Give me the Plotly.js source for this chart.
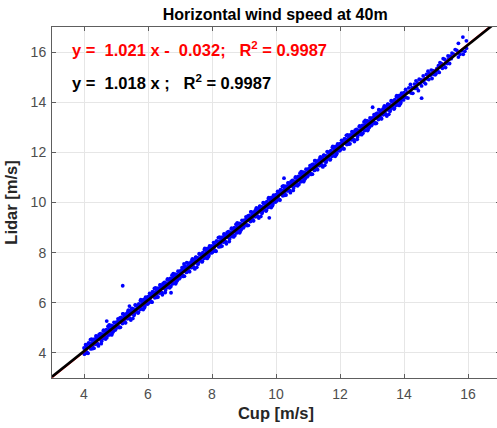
<!DOCTYPE html>
<html>
<head>
<meta charset="utf-8">
<script src="https://cdn.plot.ly/plotly-3.0.1.min.js"></script>
<style>
html,body{margin:0;padding:0;overflow:hidden;background:#fff;}
#chart{width:503px;height:428px;}
</style>
</head>
<body>
<div id="chart"></div>
<script>
// Cup anemometer wind speed [m/s]
const cupSpeed = [
4,4.025,4.05,4.075,4.1,4.125,4.15,4.175,4.2,4.225,4.25,4.275,4.3,4.325,4.35,4.375,4.4,4.425,4.45,4.475,4.5,4.525,4.55,4.575,4.6,4.625,4.65,4.675,4.7,4.725,4.75,4.775,4.8,4.825,4.85,4.875,4.9,4.925,4.95,4.975,
5,5.025,5.05,5.075,5.1,5.125,5.15,5.175,5.2,5.225,5.25,5.275,5.3,5.325,5.35,5.375,5.4,5.425,5.45,5.475,5.5,5.525,5.55,5.575,5.6,5.625,5.65,5.675,5.7,5.725,5.75,5.775,5.8,5.825,5.85,5.875,5.9,5.925,5.95,5.975,
6,6.025,6.05,6.075,6.1,6.125,6.15,6.175,6.2,6.225,6.25,6.275,6.3,6.325,6.35,6.375,6.4,6.425,6.45,6.475,6.5,6.525,6.55,6.575,6.6,6.625,6.65,6.675,6.7,6.725,6.75,6.775,6.8,6.825,6.85,6.875,6.9,6.925,6.95,6.975,
7,7.025,7.05,7.075,7.1,7.125,7.15,7.175,7.2,7.225,7.25,7.275,7.3,7.325,7.35,7.375,7.4,7.425,7.45,7.475,7.5,7.525,7.55,7.575,7.6,7.625,7.65,7.675,7.7,7.725,7.75,7.775,7.8,7.825,7.85,7.875,7.9,7.925,7.95,7.975,
8,8.025,8.05,8.075,8.1,8.125,8.15,8.175,8.2,8.225,8.25,8.275,8.3,8.325,8.35,8.375,8.4,8.425,8.45,8.475,8.5,8.525,8.55,8.575,8.6,8.625,8.65,8.675,8.7,8.725,8.75,8.775,8.8,8.825,8.85,8.875,8.9,8.925,8.95,8.975,
9,9.025,9.05,9.075,9.1,9.125,9.15,9.175,9.2,9.225,9.25,9.275,9.3,9.325,9.35,9.375,9.4,9.425,9.45,9.475,9.5,9.525,9.55,9.575,9.6,9.625,9.65,9.675,9.7,9.725,9.75,9.775,9.8,9.825,9.85,9.875,9.9,9.925,9.95,9.975,
10,10.025,10.05,10.075,10.1,10.125,10.15,10.175,10.2,10.225,10.25,10.275,10.3,10.325,10.35,10.375,10.4,10.425,10.45,10.475,10.5,10.525,10.55,10.575,10.6,10.625,10.65,10.675,10.7,10.725,10.75,10.775,10.8,10.825,10.85,10.875,10.9,10.925,10.95,10.975,
11,11.025,11.05,11.075,11.1,11.125,11.15,11.175,11.2,11.225,11.25,11.275,11.3,11.325,11.35,11.375,11.4,11.425,11.45,11.475,11.5,11.525,11.55,11.575,11.6,11.625,11.65,11.675,11.7,11.725,11.75,11.775,11.8,11.825,11.85,11.875,11.9,11.925,11.95,11.975,
12,12.025,12.05,12.075,12.1,12.125,12.15,12.175,12.2,12.225,12.25,12.275,12.3,12.325,12.35,12.375,12.4,12.425,12.45,12.475,12.5,12.525,12.55,12.575,12.6,12.625,12.65,12.675,12.7,12.725,12.75,12.775,12.8,12.825,12.85,12.875,12.9,12.925,12.95,12.975,
13,13.025,13.05,13.075,13.1,13.125,13.15,13.175,13.2,13.225,13.25,13.275,13.3,13.325,13.35,13.375,13.4,13.425,13.45,13.475,13.5,13.525,13.55,13.575,13.6,13.625,13.65,13.675,13.7,13.725,13.75,13.775,13.8,13.825,13.85,13.875,13.9,13.925,13.95,13.975,
14,14.05,14.1,14.15,14.2,14.25,14.3,14.35,14.4,14.45,14.5,14.55,14.6,14.65,14.7,14.75,14.8,14.85,14.9,14.95,
14.025,14.075,14.125,14.175,14.225,14.275,14.325,14.375,14.425,14.475,
14.525,14.575,14.625,14.675,14.725,14.775,14.825,14.875,14.925,14.975,
15,15.05,15.1,15.15,15.2,15.25,15.3,15.35,15.4,15.45,15.5,15.55,15.6,15.65,15.7,15.75,15.8,15.85,15.9,15.95,
15.025,15.075,15.125,15.175,15.225,15.275,15.325,15.375,15.425,15.475,
4.013,4.038,4.063,4.088,4.113,4.138,4.163,4.188,4.213,4.238,4.263,4.288,4.313,4.338,4.363,4.388,4.413,4.438,4.463,4.488,4.513,4.538,4.563,4.588,4.613,4.638,4.663,4.688,4.713,4.738,4.763,4.788,4.813,4.838,4.863,4.888,4.913,4.938,4.963,4.988,
5.013,5.038,5.063,5.088,5.113,5.138,5.163,5.188,5.213,5.238,5.263,5.288,5.313,5.338,5.363,5.388,5.413,5.438,5.463,5.488,5.513,5.538,5.563,5.588,5.613,5.638,5.663,5.688,5.713,5.738,5.763,5.788,5.813,5.838,5.863,5.888,5.913,5.938,5.963,5.988,
6.013,6.038,6.063,6.088,6.113,6.138,6.163,6.188,6.213,6.238,6.263,6.288,6.313,6.338,6.363,6.388,6.413,6.438,6.463,6.488,6.513,6.538,6.563,6.588,6.613,6.638,6.663,6.688,6.713,6.738,6.763,6.788,6.813,6.838,6.863,6.888,6.913,6.938,6.963,6.988,
7.013,7.038,7.063,7.088,7.113,7.138,7.163,7.188,7.213,7.238,7.263,7.288,7.313,7.338,7.363,7.388,7.413,7.438,7.463,7.488,7.513,7.538,7.563,7.588,7.613,7.638,7.663,7.688,7.713,7.738,7.763,7.788,7.813,7.838,7.863,7.888,7.913,7.938,7.963,7.988,
8.013,8.038,8.063,8.088,8.113,8.138,8.163,8.188,8.213,8.238,8.263,8.288,8.313,8.338,8.363,8.388,8.413,8.438,8.463,8.488,8.513,8.538,8.563,8.588,8.613,8.638,8.663,8.688,8.713,8.738,8.763,8.788,8.813,8.838,8.863,8.888,8.913,8.938,8.963,8.988,
9.013,9.038,9.063,9.088,9.113,9.138,9.163,9.188,9.213,9.238,9.263,9.288,9.313,9.338,9.363,9.388,9.413,9.438,9.463,9.488,9.513,9.538,9.563,9.588,9.613,9.638,9.663,9.688,9.713,9.738,9.763,9.788,9.813,9.838,9.863,9.888,9.913,9.938,9.963,9.988,
10.013,10.038,10.063,10.088,10.113,10.138,10.163,10.188,10.213,10.238,10.263,10.288,10.313,10.338,10.363,10.388,10.413,10.438,10.463,10.488,10.513,10.538,10.563,10.588,10.613,10.638,10.663,10.688,10.713,10.738,10.763,10.788,10.813,10.838,10.863,10.888,10.913,10.938,10.963,10.988,
11.013,11.038,11.063,11.088,11.113,11.138,11.163,11.188,11.213,11.238,11.263,11.288,11.313,11.338,11.363,11.388,11.413,11.438,11.463,11.488,11.513,11.538,11.563,11.588,11.613,11.638,11.663,11.688,11.713,11.738,11.763,11.788,11.813,11.838,11.863,11.888,11.913,11.938,11.963,11.988,
12.013,12.038,12.063,12.088,12.113,12.138,12.163,12.188,12.213,12.238,12.263,12.288,12.313,12.338,12.363,12.388,12.413,12.438,12.463,12.488,12.513,12.538,12.563,12.588,12.613,12.638,12.663,12.688,12.713,12.738,12.763,12.788,12.813,12.838,12.863,12.888,12.913,12.938,12.963,12.988,
13.013,13.038,13.063,13.088,13.113,13.138,13.163,13.188,13.213,13.238,13.263,13.288,13.313,13.338,13.363,13.388,13.413,13.438,13.463,13.488,13.513,13.538,13.563,13.588,13.613,13.638,13.663,13.688,13.713,13.738,13.763,13.788,13.813,13.838,13.863,13.888,13.913,13.938,13.963,13.988,
5.21,4.71,5.42,6.72,7.125,9.79,10.25,13.02,14.55,15.84,15.95,15.7
];
// Lidar wind speed [m/s]
const lidarSpeed = [
4.2,4.025,4.33,4.005,4.22,3.985,4.39,4.225,4.53,4.185,4.4,4.175,4.39,4.545,4.37,4.675,4.38,4.595,4.28,4.735,4.56,4.715,4.47,4.705,4.87,4.615,4.75,4.555,4.93,4.755,5.06,4.725,4.96,4.895,5.1,4.765,5.08,4.935,5.06,4.915,
4.96,5.155,5.08,5.275,5.01,5.395,5.24,5.355,5.17,5.555,5.3,5.525,5.2,5.445,5.36,5.665,5.55,5.365,5.66,5.555,5.78,5.375,5.74,5.575,5.92,5.665,5.89,5.785,5.62,5.895,5.73,6.125,5.87,6.085,5.73,6.015,5.85,6.225,5.97,6.195,
6.24,6.065,6.37,6.045,6.26,6.025,6.43,6.265,6.57,6.225,6.44,6.215,6.43,6.585,6.41,6.715,6.42,6.635,6.32,6.775,6.6,6.755,6.51,6.745,6.91,6.655,6.79,6.595,6.97,6.795,7.1,6.765,7,6.935,7.14,6.805,7.12,6.975,7.1,6.955,
7,7.195,7.12,7.315,7.05,7.435,7.28,7.395,7.21,7.595,7.34,7.565,7.24,7.485,7.4,7.705,7.59,7.405,7.7,7.595,7.82,7.415,7.78,7.615,7.96,7.705,7.93,7.825,7.66,7.935,7.77,8.165,7.91,8.125,7.77,8.055,7.89,8.265,8.01,8.235,
8.27,8.095,8.4,8.075,8.29,8.055,8.46,8.295,8.6,8.255,8.47,8.245,8.46,8.615,8.44,8.745,8.45,8.665,8.35,8.805,8.63,8.785,8.54,8.775,8.94,8.685,8.82,8.625,9,8.825,9.13,8.795,9.03,8.965,9.17,8.835,9.15,9.005,9.13,8.985,
9.03,9.225,9.15,9.345,9.08,9.465,9.31,9.425,9.24,9.625,9.37,9.595,9.27,9.515,9.43,9.735,9.62,9.435,9.73,9.625,9.85,9.445,9.81,9.645,9.99,9.735,9.96,9.855,9.69,9.965,9.8,10.195,9.94,10.155,9.8,10.085,9.92,10.295,10.04,10.265,
10.31,10.135,10.44,10.115,10.33,10.095,10.5,10.335,10.64,10.295,10.51,10.285,10.5,10.655,10.48,10.785,10.49,10.705,10.39,10.845,10.67,10.825,10.58,10.815,10.98,10.725,10.86,10.665,11.04,10.865,11.17,10.835,11.07,11.005,11.21,10.875,11.19,11.045,11.17,11.025,
11.07,11.265,11.19,11.385,11.12,11.505,11.35,11.465,11.28,11.665,11.41,11.635,11.31,11.555,11.47,11.775,11.66,11.475,11.77,11.665,11.89,11.485,11.85,11.685,12.03,11.775,12,11.895,11.73,12.005,11.84,12.235,11.98,12.195,11.84,12.125,11.96,12.335,12.08,12.305,
12.35,12.175,12.48,12.155,12.37,12.135,12.54,12.375,12.68,12.335,12.55,12.325,12.54,12.695,12.52,12.825,12.53,12.745,12.43,12.885,12.71,12.865,12.62,12.855,13.02,12.765,12.9,12.705,13.08,12.905,13.21,12.875,13.11,13.045,13.25,12.915,13.23,13.085,13.21,13.065,
13.1,13.295,13.22,13.415,13.15,13.535,13.38,13.495,13.31,13.695,13.44,13.665,13.34,13.585,13.5,13.805,13.69,13.505,13.8,13.695,13.92,13.515,13.88,13.715,14.06,13.805,14.03,13.925,13.76,14.035,13.87,14.265,14.01,14.225,13.87,14.155,13.99,14.365,14.11,14.335,
14.38,14.51,14.4,14.57,14.71,14.58,14.57,14.55,14.56,14.46,14.74,14.65,15.05,14.93,15.11,15.24,15.14,15.28,15.26,15.24,
14.205,14.185,14.165,14.405,14.365,14.355,14.725,14.855,14.775,14.915,
14.895,14.885,14.795,14.735,14.935,14.905,15.075,14.945,15.115,15.095,
15.14,15.26,15.19,15.42,15.35,15.48,15.38,15.54,15.73,15.84,15.96,15.92,16.1,16.07,15.8,15.91,16.05,15.91,16.03,16.15,
15.335,15.455,15.575,15.535,15.735,15.705,15.625,15.845,15.545,15.735,
3.95,4.15,4.07,4.27,4,4.39,4.23,4.35,4.16,4.55,4.29,4.52,4.19,4.44,4.35,4.66,4.54,4.36,4.65,4.55,4.77,4.37,4.73,4.57,4.91,4.66,4.88,4.78,4.61,4.89,4.72,5.12,4.86,5.08,4.72,5.01,4.84,5.22,4.96,5.19,
5.23,5.06,5.36,5.04,5.25,5.02,5.42,5.26,5.56,5.22,5.43,5.21,5.42,5.58,5.4,5.71,5.41,5.63,5.31,5.77,5.59,5.75,5.5,5.74,5.9,5.65,5.78,5.59,5.96,5.79,6.09,5.76,5.99,5.93,6.13,5.8,6.11,5.97,6.09,5.95,
5.99,6.19,6.11,6.31,6.04,6.43,6.27,6.39,6.2,6.59,6.33,6.56,6.23,6.48,6.39,6.7,6.58,6.4,6.69,6.59,6.81,6.41,6.77,6.61,6.95,6.7,6.92,6.82,6.65,6.93,6.76,7.16,6.9,7.12,6.76,7.05,6.88,7.26,7,7.23,
7.27,7.1,7.4,7.08,7.29,7.06,7.46,7.3,7.6,7.26,7.47,7.25,7.46,7.62,7.44,7.75,7.45,7.67,7.35,7.81,7.63,7.79,7.54,7.78,7.94,7.69,7.82,7.63,8,7.83,8.13,7.8,8.03,7.97,8.17,7.84,8.15,8.01,8.13,7.99,
8.02,8.22,8.14,8.34,8.07,8.46,8.3,8.42,8.23,8.62,8.36,8.59,8.26,8.51,8.42,8.73,8.61,8.43,8.72,8.62,8.84,8.44,8.8,8.64,8.98,8.73,8.95,8.85,8.68,8.96,8.79,9.19,8.93,9.15,8.79,9.08,8.91,9.29,9.03,9.26,
9.3,9.13,9.43,9.11,9.32,9.09,9.49,9.33,9.63,9.29,9.5,9.28,9.49,9.65,9.47,9.78,9.48,9.7,9.38,9.84,9.66,9.82,9.57,9.81,9.97,9.72,9.85,9.66,10.03,9.86,10.16,9.83,10.06,10,10.2,9.87,10.18,10.04,10.16,10.02,
10.06,10.26,10.18,10.38,10.11,10.5,10.34,10.46,10.27,10.66,10.4,10.63,10.3,10.55,10.46,10.77,10.65,10.47,10.76,10.66,10.88,10.48,10.84,10.68,11.02,10.77,10.99,10.89,10.72,11,10.83,11.23,10.97,11.19,10.83,11.12,10.95,11.33,11.07,11.3,
11.34,11.17,11.47,11.15,11.36,11.13,11.53,11.37,11.67,11.33,11.54,11.32,11.53,11.69,11.51,11.82,11.52,11.74,11.42,11.88,11.7,11.86,11.61,11.85,12.01,11.76,11.89,11.7,12.07,11.9,12.2,11.87,12.1,12.04,12.24,11.91,12.22,12.08,12.2,12.06,
12.1,12.3,12.22,12.42,12.15,12.54,12.38,12.5,12.31,12.7,12.44,12.67,12.34,12.59,12.5,12.81,12.69,12.51,12.8,12.7,12.92,12.52,12.88,12.72,13.06,12.81,13.03,12.93,12.76,13.04,12.87,13.27,13.01,13.23,12.87,13.16,12.99,13.37,13.11,13.34,
13.37,13.2,13.5,13.18,13.39,13.16,13.56,13.4,13.7,13.36,13.57,13.35,13.56,13.72,13.54,13.85,13.55,13.77,13.45,13.91,13.73,13.89,13.64,13.88,14.04,13.79,13.92,13.73,14.1,13.93,14.23,13.9,14.13,14.07,14.27,13.94,14.25,14.11,14.23,14.09,
6.68,5.27,5.87,6.4,7.55,9.39,10.97,13.8,14.16,16.6,16.45,16.35
];
// Regression results
const fitSlope = [1.021, 1.018];
const fitIntercept = [-0.032, 0];
const fitR2 = [0.9987, 0.9987];
const axisRange = [3, 17];
const tickValues = [4, 6, 8, 10, 12, 14, 16];

const nb = '\u00a0';
function lineY(i) { return axisRange.map(v => fitSlope[i] * v + fitIntercept[i]); }

const traces = [
  {x: cupSpeed, y: lidarSpeed, type: 'scatter', mode: 'markers',
   marker: {color: '#0000ff', size: 3.8, line: {width: 0}}, hoverinfo: 'skip'},
  {x: axisRange, y: lineY(0), type: 'scatter', mode: 'lines',
   line: {color: '#ff0000', width: 2}, hoverinfo: 'skip'},
  {x: axisRange, y: lineY(1), type: 'scatter', mode: 'lines',
   line: {color: '#000000', width: 2.6}, hoverinfo: 'skip'}
];

const font = 'Liberation Sans, Arial, sans-serif';
const axisCommon = {
  range: axisRange, tickvals: tickValues, ticktext: tickValues.map(String),
  ticks: 'inside', ticklen: 4, tickwidth: 1, tickcolor: '#5e5e5e',
  showline: true, linecolor: '#5e5e5e', linewidth: 1, mirror: 'ticks',
  showgrid: true, gridcolor: '#e6e6e6', gridwidth: 1, zeroline: false,
  tickfont: {family: font, size: 14, color: '#4d4d4d'}
};

const eq1 = 'y' + nb + '=' + nb + nb + fitSlope[0].toFixed(3) + nb + 'x' + nb + '-' + nb + nb +
  Math.abs(fitIntercept[0]).toFixed(3) + ';' + nb + nb + nb + 'R<sup>2</sup>' + nb + '=' + nb + fitR2[0].toFixed(4);
const eq2 = 'y' + nb + '=' + nb + nb + fitSlope[1].toFixed(3) + nb + 'x' + nb + ';' + nb + nb + nb +
  'R<sup>2</sup>' + nb + '=' + nb + fitR2[1].toFixed(4);

const layout = {
  width: 503, height: 428,
  margin: {l: 52, r: 3, t: 27, b: 50, pad: 0},
  paper_bgcolor: '#ffffff', plot_bgcolor: '#ffffff',
  showlegend: false,
  title: {text: '<b>Horizontal wind speed at 40m</b>', x: 0.547, xanchor: 'center', y: 0.966, yanchor: 'middle',
          font: {family: font, size: 16, color: '#000'}},
  xaxis: Object.assign({}, axisCommon, {
    ticklabelstandoff: 3,
    title: {text: '<b>Cup [m/s]</b>', standoff: 6,
            font: {family: font, size: 16.5, color: '#262626'}}
  }),
  yaxis: Object.assign({}, axisCommon, {
    ticklabelstandoff: 2,
    title: {text: '<b>Lidar [m/s]</b>', standoff: 8,
            font: {family: font, size: 16.5, color: '#262626'}}
  }),
  annotations: [
    {x: 3.56, y: 16.12, xref: 'x', yref: 'y', xanchor: 'left', yanchor: 'middle', showarrow: false,
     text: '<b>' + eq1 + '</b>', font: {family: font, size: 16.5, color: '#ff0000'}},
    {x: 3.56, y: 14.8, xref: 'x', yref: 'y', xanchor: 'left', yanchor: 'middle', showarrow: false,
     text: '<b>' + eq2 + '</b>', font: {family: font, size: 16.5, color: '#000000'}}
  ]
};

Plotly.newPlot('chart', traces, layout, {displayModeBar: false, staticPlot: true});
</script>
</body>
</html>
